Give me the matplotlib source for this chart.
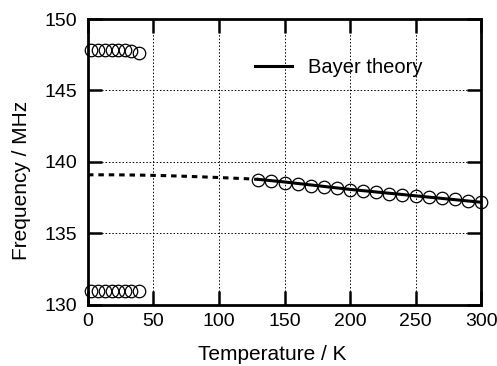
import matplotlib
matplotlib.use("Agg")
import matplotlib.pyplot as plt

plt.rcParams["font.family"] = ["Liberation Sans", "DejaVu Sans"]

# measured frequencies (two branches at low T, one at high T)
t_low = [2, 8, 13, 18, 23, 28, 33, 39]
f_low_upper = [147.8, 147.8, 147.8, 147.8, 147.8, 147.8, 147.75, 147.65]
f_low_lower = [130.95, 130.95, 130.95, 130.95, 130.95, 130.95, 130.95, 130.95]

t_high = [130, 140, 150, 160, 170, 180, 190, 200, 210, 220, 230, 240, 250, 260, 270, 280, 290, 300]
f_high = [138.75, 138.65, 138.55, 138.45, 138.35, 138.25, 138.15, 138.05, 137.95, 137.87,
          137.78, 137.7, 137.62, 137.54, 137.46, 137.38, 137.3, 137.2]

# Bayer theory curve: dashed below the fit range, solid inside it
t_theory_ext = [0, 20, 40, 60, 80, 100, 120, 130]
f_theory_ext = [139.1, 139.1, 139.08, 139.04, 138.98, 138.91, 138.83, 138.78]
t_theory = [130, 150, 200, 250, 300]
f_theory = [138.78, 138.6, 138.08, 137.63, 137.18]

fig = plt.figure(figsize=(4.97, 3.66), dpi=100)
ax = fig.add_axes([0.177, 0.167, 0.791, 0.781])

ax.plot(t_theory_ext, f_theory_ext, ls=(0, (1.8, 1.6)), color="black", lw=2.2)
ax.plot(t_theory, f_theory, color="black", lw=2.2, label="Bayer theory")

marker_style = dict(ls="none", marker="o", ms=9, mfc="none", mec="black", mew=0.9, clip_on=False)
ax.plot(t_low, f_low_upper, **marker_style)
ax.plot(t_low, f_low_lower, **marker_style)
ax.plot(t_high, f_high, **marker_style)

ax.set_xlim(0, 300)
ax.set_ylim(130, 150)
ax.set_xticks(range(0, 301, 50))
ax.set_yticks(range(130, 151, 5))
ax.grid(True, color="black", ls=(0, (1.5, 2)), lw=0.7)
ax.tick_params(direction="in", length=10, width=1.8, top=True, right=True, labelsize=14)
ax.tick_params(axis="x", pad=6)
ax.tick_params(axis="y", pad=8)
for s in ax.spines.values():
    s.set_linewidth(2)

ax.set_xlabel("Temperature / K", fontsize=15)
ax.set_ylabel("Frequency / MHz", fontsize=15)
ax.xaxis.set_label_coords(0.468, -0.14)
ax.yaxis.set_label_coords(-0.145, 0.437)
ax.legend(loc="center left", bbox_to_anchor=(0.425, 0.83), frameon=False, fontsize=14.5,
          handlelength=1.85, handletextpad=0.8, borderpad=0, borderaxespad=0)

fig.savefig("out.png", dpi=100)
